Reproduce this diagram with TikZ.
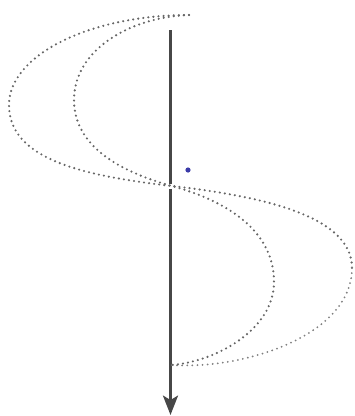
\documentclass[tikz,border=0pt]{standalone}
\usepackage{tikz}
\usetikzlibrary{arrows.meta,calc}
\definecolor{axisgray}{HTML}{474747}
\definecolor{dotgray}{HTML}{666666}
\definecolor{dotlight}{HTML}{808080}
\definecolor{spotblue}{HTML}{3A3AA8}

\begin{document}
\begin{tikzpicture}[x=0.02cm, y=-0.02cm,
    axis/.style={draw=axisgray, line width=1.8pt,
                 -{Stealth[length=11pt, width=8.5pt, inset=2.5pt]}},
    gapcut/.style={draw=white, line width=2.6pt},
    dotline/.style={draw=dotgray, line width=1.35pt, line cap=round,
                    dash pattern=on 0pt off 2.9pt},
    dotfaint/.style={dotline, draw=dotlight, line width=1.15pt},
  ]
    \useasboundingbox (0,0) rectangle (355,416);

    % key points of the two twisted curves (pixel grid, y downwards)
    \coordinate (top)   at (189,15);
    \coordinate (bot)   at (171,365);
    \coordinate (cross) at (172,186);
    \coordinate (outL)  at (9,105);
    \coordinate (outR)  at (352,268);
    \coordinate (inL)   at (74,100);
    \coordinate (inR)   at (274,282);
    \coordinate (axtop) at (170.5,30);
    \coordinate (axtip) at (170.5,415);
    \coordinate (spot)  at (188,170);

    % propagation axis, broken where the curves pass in front
    \draw[axis] (axtop) -- (axtip);
    \draw[gapcut] ($(cross)+(-1.5,-2)$) -- ($(cross)+(-1.5,2.5)$);

    % outer curve
    \draw[dotline] (top) .. controls (90,15) and (9,55) .. (outL)
                         .. controls (9,160) and (85,176) .. (cross)
                         .. controls (259,196) and (352,215) .. (outR);
    \draw[dotfaint] (outR) .. controls (352,335) and (245,370) .. (bot);

    % inner curve
    \draw[dotline] (top) .. controls (130,17) and (74,50) .. (inL)
                         .. controls (74,150) and (128,174) .. (cross)
                         .. controls (216,198) and (274,225) .. (inR)
                         .. controls (274,330) and (215,362) .. (bot);

    % marker dot
    \fill[spotblue] (spot) circle (2.6);
\end{tikzpicture}
\end{document}
